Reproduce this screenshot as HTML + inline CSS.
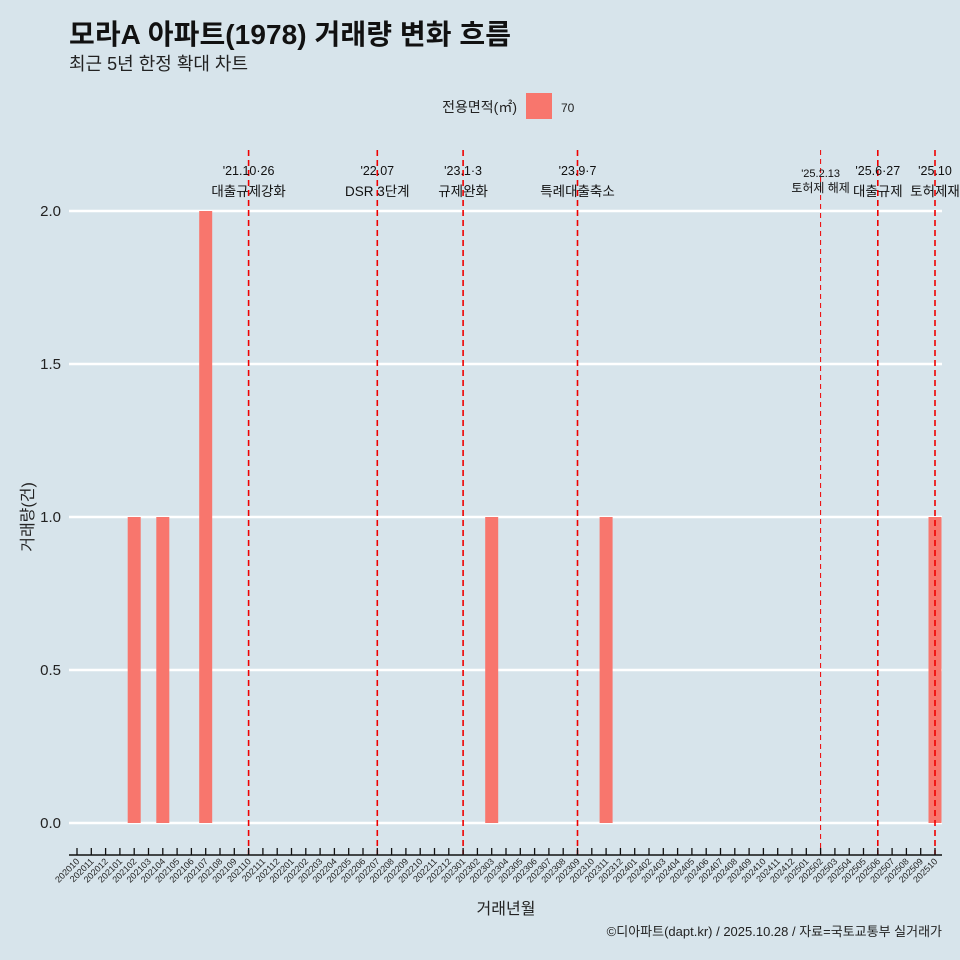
<!DOCTYPE html>
<html><head><meta charset="utf-8"><style>
body{margin:0;background:#d7e4eb;}
svg{display:block;font-family:"Liberation Sans","Noto Sans CJK KR",sans-serif;}
</style></head><body>
<svg id="c" width="960" height="960">
<rect width="960" height="960" fill="#d7e4eb"/>
<text x="69" y="44" font-size="28" font-weight="bold" fill="#111" textLength="442">모라A 아파트(1978) 거래량 변화 흐름</text>
<text x="69" y="70" font-size="18" fill="#222">최근 5년 한정 확대 차트</text>
<text x="517" y="112" font-size="14" text-anchor="end" fill="#222">전용면적(㎡)</text>
<rect x="526" y="93" width="26" height="26" fill="#f8766d"/>
<text x="561" y="112" font-size="12" fill="#222">70</text>
<g id="grid"></g><g id="bars"></g><g id="vl"></g><g id="ax"></g>
<text transform="translate(33,517) rotate(-90)" font-size="16" text-anchor="middle" fill="#222">거래량(건)</text>
<text x="506" y="914" font-size="16" text-anchor="middle" fill="#222">거래년월</text>
<text x="942" y="936" font-size="13" text-anchor="end" fill="#222">©디아파트(dapt.kr) / 2025.10.28 / 자료=국토교통부 실거래가</text>
</svg>
<script>
const months=[];for(let y=2020,m=10;y*100+m<=202510;){months.push(y+String(m).padStart(2,'0'));m++;if(m>12){m=1;y++;}}
const barMonths=["202102","202104","202107","202303","202311","202510"];
const barValues=[1,1,2,1,1,1];
const yTicks=[0,0.5,1,1.5,2];
const yTickLabels=["0.0","0.5","1.0","1.5","2.0"];
const eventMonths=["202110","202207","202301","202309","202502","202506","202510"];
const eventDates=["'21.10·26","'22.07","'23.1·3","'23.9·7","'25.2.13","'25.6·27","'25.10"];
const eventLabels=["대출규제강화","DSR 3단계","규제완화","특례대출축소","토허제 해제","대출규제","토허제재"];
const NS="http://www.w3.org/2000/svg";
const x=m=>77+months.indexOf(m)*14.3;
const y=v=>823-v*306;
function mk(t,a,p){const e=document.createElementNS(NS,t);for(const k in a)e.setAttribute(k,a[k]);p.appendChild(e);return e;}
const G=document.getElementById('grid'),B=document.getElementById('bars'),V=document.getElementById('vl'),A=document.getElementById('ax');
yTicks.forEach((v,i)=>{
 const l=mk('line',{x1:69,x2:942,y1:y(v),y2:y(v),stroke:'#fff','stroke-width':2.5},G);
 
 
 const t=mk('text',{x:61,y:y(v)+5,'font-size':15,'text-anchor':'end',fill:'#222'},G);
 
 
 t.textContent=yTickLabels[i];
});
barMonths.forEach((m,i)=>{
 const r=mk('rect',{x:x(m)-6.5,y:y(barValues[i]),width:13,height:y(0)-y(barValues[i]),fill:'#f8766d'},B);
 
 
});
eventMonths.forEach((m,i)=>{
 const thin=m==="202502";
 const l=mk('line',{x1:x(m),x2:x(m),y1:150,y2:855,stroke:'#e00','stroke-width':thin?1:1.6,'stroke-dasharray':thin?'5,4':'6,4'},V);
 
 
 const t1=mk('text',{x:x(m),y:thin?177:175,'font-size':thin?11:12.5,'text-anchor':'middle',fill:'#111'},V);
 
 
 t1.textContent=eventDates[i];
 const t2=mk('text',{x:x(m),y:thin?192:196,'font-size':thin?12:13.5,'text-anchor':'middle',fill:'#111'},V);
 
 
 t2.textContent=eventLabels[i];
});
const ax=mk('line',{x1:69,x2:942,y1:855,y2:855,stroke:'#111','stroke-width':1.5},A);


months.forEach(m=>{
 const t=mk('line',{x1:x(m),x2:x(m),y1:848,y2:855,stroke:'#111','stroke-width':1.3},A);
 
 
 const tx=mk('text',{transform:`translate(${x(m)+3},${862}) rotate(-45)`,'font-size':9,'text-anchor':'end',fill:'#222'},A);
 
 
 tx.textContent=m;
});
</script>
</body></html>
